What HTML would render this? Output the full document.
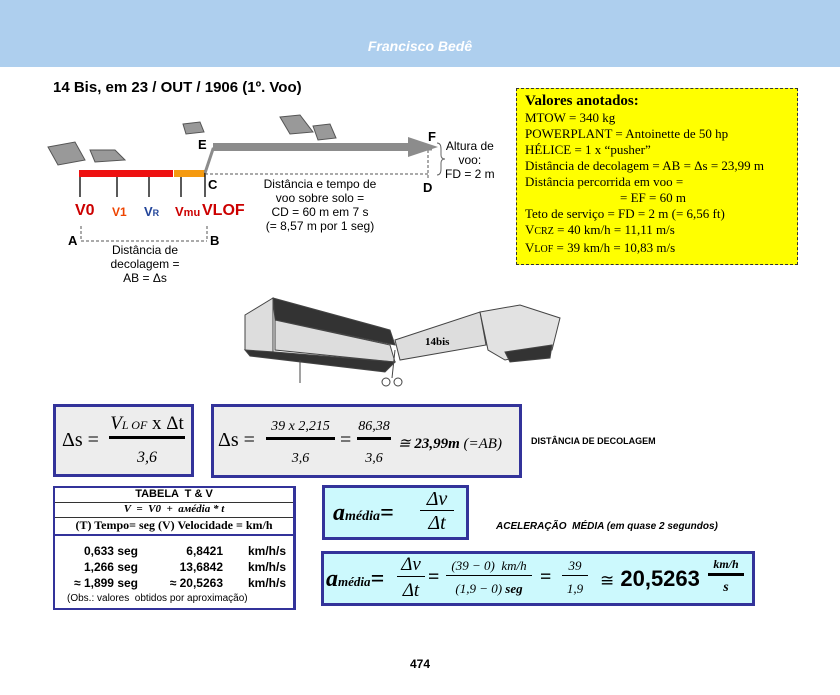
<!DOCTYPE html>
<html><head><meta charset="utf-8"><style>
*{margin:0;padding:0;box-sizing:border-box}
body{width:840px;height:695px;background:#fff;position:relative;overflow:hidden;font-family:"Liberation Sans",sans-serif;color:#000}
.a{position:absolute;white-space:nowrap}
.ser{font-family:"Liberation Serif",serif}
.box{position:absolute;border:3px solid #33339a}
.gray{background:#ededed}
.cyan{background:#ccf9fd}
.fr{display:inline-block;text-align:center;vertical-align:middle}
.fr .n{display:block;border-bottom:2px solid #000;padding:0 2px}
.fr .d{display:block}
</style></head><body>
<div class="a" style="left:0;top:0;width:840px;height:67px;background:#aecfee"></div>
<div class="a" style="left:0;top:38px;width:840px;text-align:center;color:#fff;font-weight:bold;font-style:italic;font-size:14px">Francisco Bedê</div>
<div class="a" style="left:53px;top:79px;font-weight:bold;font-size:15px">14 Bis, em 23 / OUT / 1906 (1º. Voo)</div>

<svg class="a" style="left:0;top:0" width="840" height="695">
 <!-- small planes -->
 <g fill="#999" stroke="#555" stroke-width="1">
  <polygon points="48,147 75,142 85,160 58,165"/><polygon points="90,150 115,150 125,160 95,162"/><polygon points="183,124 200,122 204,132 186,134"/><polygon points="280,117 300,115 313,132 290,134"/><polygon points="313,126 330,124 336,138 318,140"/>
 </g>
 <rect x="79" y="170" width="94" height="7" fill="#ee1111"/>
 <rect x="174" y="170" width="31" height="7" fill="#f59a10"/>
 <g stroke="#000" stroke-width="1.3">
  <line x1="80" y1="177" x2="80" y2="197"/><line x1="117" y1="177" x2="117" y2="197"/><line x1="149" y1="177" x2="149" y2="197"/><line x1="181" y1="177" x2="181" y2="197"/><line x1="205" y1="170" x2="205" y2="197"/>
 </g>
 <g stroke="#555" stroke-width="1" stroke-dasharray="3,2" fill="none">
  <line x1="205" y1="174" x2="428" y2="174"/><line x1="428" y1="150" x2="428" y2="180"/>
  <line x1="81" y1="226" x2="81" y2="241"/><line x1="207" y1="226" x2="207" y2="241"/><line x1="81" y1="241" x2="207" y2="241"/>
 </g>
 <polyline points="205,173 213,149 432,149" stroke="#8c8c8c" stroke-width="3" fill="none"/>
 <rect x="213" y="143" width="196" height="8" fill="#8c8c8c"/>
 <polygon points="408,137 438,147 408,157" fill="#8c8c8c"/>
 <path d="M437,143 q4,0 4,6 v6 q0,4 4,4 q-4,0 -4,4 v6 q0,6 -4,6" stroke="#666" fill="none"/>
 <!-- big plane -->
 <g stroke="#444" stroke-width="1">
  <polygon points="245,315 273,298 273,355 245,350" fill="#ddd"/>
  <polygon points="273,298 390,330 395,345 275,320" fill="#333"/>
  <polygon points="275,320 390,345 395,362 275,350" fill="#ddd"/>
  <polygon points="245,350 275,352 395,362 385,372 250,356" fill="#333"/>
  <polygon points="395,340 480,312 486,345 400,360" fill="#ddd"/>
  <polygon points="480,312 520,305 560,318 552,350 505,360 488,350" fill="#e2e2e2"/>
  <polygon points="505,352 552,345 550,358 510,362" fill="#333"/>
  <circle cx="386" cy="382" r="4" fill="none"/><circle cx="398" cy="382" r="4" fill="none"/>
  <line x1="300" y1="360" x2="300" y2="383"/><line x1="395" y1="350" x2="392" y2="378"/>
 </g>
 <text x="425" y="345" font-family="Liberation Serif" font-size="11" font-weight="bold">14bis</text>
</svg>

<div class="a" style="left:198px;top:137px;font-weight:bold;font-size:13px">E</div>
<div class="a" style="left:428px;top:129px;font-weight:bold;font-size:13px">F</div>
<div class="a" style="left:208px;top:177px;font-weight:bold;font-size:13px">C</div>
<div class="a" style="left:423px;top:180px;font-weight:bold;font-size:13px">D</div>
<div class="a" style="left:68px;top:233px;font-weight:bold;font-size:13px">A</div>
<div class="a" style="left:210px;top:233px;font-weight:bold;font-size:13px">B</div>
<div class="a" style="left:445px;top:139px;font-size:12px;text-align:center;line-height:14px">Altura de<br>voo:<br>FD = 2 m</div>
<div class="a" style="left:255px;top:177px;font-size:12px;text-align:center;line-height:14px;width:130px">Distância e tempo de<br>voo sobre solo =<br>CD = 60 m em 7 s<br>(= 8,57 m por 1 seg)</div>
<div class="a" style="left:95px;top:243px;font-size:12px;text-align:center;line-height:14px;width:100px">Distância de<br>decolagem =<br>AB = Δs</div>
<div class="a" style="left:75px;top:202px;font-weight:bold;font-size:16px;color:#cc0000">V0</div>
<div class="a" style="left:112px;top:205px;font-weight:bold;font-size:12px;color:#ee4400">V1</div>
<div class="a" style="left:144px;top:204px;font-weight:bold;font-size:13px;color:#224499">V<span style="font-size:9px">R</span></div>
<div class="a" style="left:175px;top:204px;font-weight:bold;font-size:13px;color:#cc0000">V<span style="font-size:11px">mu</span></div>
<div class="a" style="left:202px;top:202px;font-weight:bold;font-size:16px;color:#cc0000">VLOF</div>

<div class="a ser" style="left:516px;top:88px;width:282px;height:177px;background:#ffff00;border:1px dashed #333;padding:4px 0 0 8px;font-size:13px;line-height:16px">
<b style="font-size:15px;line-height:17px">Valores anotados:</b><br>MTOW = 340 kg<br>POWERPLANT = Antoinette de 50 hp<br>HÉLICE = 1 x “pusher”<br>Distância de decolagem = AB = Δs = 23,99 m<br>Distância percorrida em voo =<br><span style="padding-left:95px">= EF = 60 m</span><br>Teto de serviço = FD = 2 m (= 6,56 ft)<br>V<span style="font-size:10px">CRZ</span> = 40 km/h = 11,11 m/s<br>V<span style="font-size:10px">LOF</span> = 39 km/h = 10,83 m/s</div>

<div class="box gray ser" style="left:53px;top:404px;width:141px;height:73px"></div>
<div class="a ser" style="left:62px;top:429px;font-size:20px">Δs =</div>
<div class="a ser" style="left:109px;top:413px;font-size:19px;font-style:italic;width:76px;text-align:center;border-bottom:3px solid #000;line-height:22px">V<span style="font-size:12px">L OF</span> <span style="font-style:normal">x Δt</span></div>
<div class="a ser" style="left:109px;top:449px;font-size:16px;font-style:italic;width:76px;text-align:center">3,6</div>

<div class="box gray ser" style="left:211px;top:404px;width:311px;height:74px"></div>
<div class="a ser" style="left:218px;top:429px;font-size:20px">Δs =</div>
<div class="a ser" style="left:266px;top:417px;font-size:14px;font-style:italic;width:69px;text-align:center;border-bottom:3px solid #000;line-height:20px">39 x 2,215</div>
<div class="a ser" style="left:266px;top:451px;font-size:14px;font-style:italic;width:69px;text-align:center">3,6</div>
<div class="a ser" style="left:340px;top:429px;font-size:20px">=</div>
<div class="a ser" style="left:357px;top:417px;font-size:14px;font-style:italic;width:34px;text-align:center;border-bottom:3px solid #000;line-height:20px">86,38</div>
<div class="a ser" style="left:357px;top:451px;font-size:14px;font-style:italic;width:34px;text-align:center">3,6</div>
<div class="a ser" style="left:398px;top:434px;font-size:15px;font-style:italic">≅ <b>23,99m</b> (=AB)</div>
<div class="a" style="left:531px;top:436px;font-size:9px;font-weight:bold">DISTÂNCIA DE DECOLAGEM</div>

<div class="a" style="left:53px;top:486px;width:243px;height:124px;border:2px solid #33339a;border-right-width:3px"></div>
<div class="a" style="left:55px;top:488px;width:238px;font-size:11px;font-weight:bold;text-align:center;border-bottom:1px solid #333;height:15px">TABELA &nbsp;T &amp; V</div>
<div class="a ser" style="left:55px;top:503px;width:238px;font-size:11px;font-weight:bold;font-style:italic;text-align:center;border-bottom:1px solid #333;height:15px">V &nbsp;= &nbsp;V0 &nbsp;+ &nbsp;aмédia * t</div>
<div class="a ser" style="left:55px;top:518px;width:238px;font-size:12px;font-weight:bold;text-align:center;height:18px;border-bottom:2px solid #33339a">(T) Tempo= seg (V) Velocidade = km/h</div>
<div class="a" style="left:58px;top:543px;font-size:12px;font-weight:bold;line-height:16px">
<span style="display:inline-block;width:80px;text-align:right">0,633 seg</span><span style="display:inline-block;width:85px;text-align:right">6,8421</span><span style="display:inline-block;padding-left:25px">km/h/s</span><br>
<span style="display:inline-block;width:80px;text-align:right">1,266 seg</span><span style="display:inline-block;width:85px;text-align:right">13,6842</span><span style="display:inline-block;padding-left:25px">km/h/s</span><br>
<span style="display:inline-block;width:80px;text-align:right">≈ 1,899 seg</span><span style="display:inline-block;width:85px;text-align:right">≈ 20,5263</span><span style="display:inline-block;padding-left:25px">km/h/s</span></div>
<div class="a" style="left:67px;top:593px;font-size:10px">(Obs.: valores &nbsp;obtidos por aproximação)</div>

<div class="box cyan" style="left:322px;top:485px;width:147px;height:55px"></div>
<div class="a ser" style="left:333px;top:500px;font-size:24px;font-weight:bold;font-style:italic">a<span style="font-size:14px">média</span>=</div>
<div class="a ser" style="left:420px;top:488px;font-size:20px;font-style:italic;width:34px;text-align:center;border-bottom:1px solid #000;line-height:22px">Δv</div>
<div class="a ser" style="left:420px;top:512px;font-size:20px;font-style:italic;width:34px;text-align:center">Δt</div>
<div class="a" style="left:496px;top:521px;font-size:10px;font-weight:bold;font-style:italic">ACELERAÇÃO &nbsp;MÉDIA (em quase 2 segundos)</div>

<div class="box cyan" style="left:321px;top:551px;width:434px;height:55px"></div>
<div class="a ser" style="left:326px;top:566px;font-size:24px;font-weight:bold;font-style:italic">a<span style="font-size:13px">média</span>=</div>
<div class="a ser" style="left:397px;top:554px;font-size:19px;font-style:italic;width:28px;text-align:center;border-bottom:1px solid #000;line-height:22px">Δv</div>
<div class="a ser" style="left:397px;top:580px;font-size:19px;font-style:italic;width:28px;text-align:center">Δt</div>
<div class="a ser" style="left:428px;top:566px;font-size:20px;font-weight:bold">=</div>
<div class="a ser" style="left:446px;top:557px;font-size:13px;font-style:italic;width:86px;text-align:center;border-bottom:1px solid #000;line-height:18px">(39 − 0) &nbsp;km/h</div>
<div class="a ser" style="left:446px;top:581px;font-size:13px;font-style:italic;width:86px;text-align:center">(1,9 − 0) <b>seg</b></div>
<div class="a ser" style="left:540px;top:566px;font-size:20px;font-weight:bold">=</div>
<div class="a ser" style="left:562px;top:557px;font-size:13px;font-style:italic;width:26px;text-align:center;border-bottom:1px solid #000;line-height:18px">39</div>
<div class="a ser" style="left:562px;top:581px;font-size:13px;font-style:italic;width:26px;text-align:center">1,9</div>
<div class="a" style="left:600px;top:566px;font-size:22px;font-weight:bold"><span class="ser" style="font-weight:normal;font-size:17px">≅</span> 20,5263</div>
<div class="a ser" style="left:708px;top:556px;font-size:12px;font-weight:bold;font-style:italic;width:36px;text-align:center;border-bottom:3px solid #000;line-height:17px">km/h</div>
<div class="a ser" style="left:708px;top:580px;font-size:14px;font-weight:bold;font-style:italic;width:36px;text-align:center">s</div>

<div class="a" style="left:0;top:657px;width:840px;text-align:center;font-size:12px;font-weight:bold">474</div>
</body></html>
